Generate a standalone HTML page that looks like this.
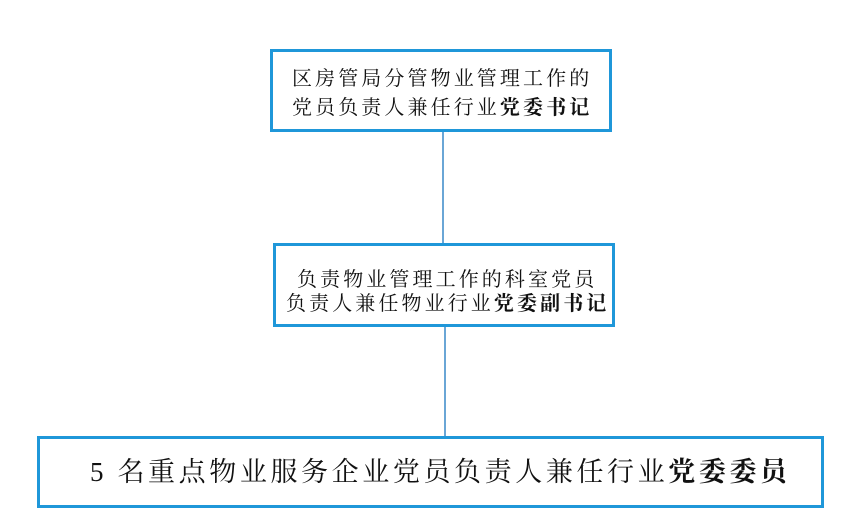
<!DOCTYPE html>
<html><head><meta charset="utf-8"><style>
body{margin:0;width:861px;height:528px;background:#fff;position:relative;overflow:hidden;font-family:"Liberation Serif","Noto Serif CJK SC",serif;color:#111}
.box{position:absolute;border:3.5px solid #1f97d9;box-sizing:border-box;background:#fff}
.t{position:absolute;white-space:nowrap;font-size:20px;letter-spacing:3.1px;line-height:24px}
.ln{position:absolute;width:2px;background:#6aa6d6}
b{font-weight:bold}
</style></head><body>
<div class="ln" style="left:442px;top:131px;height:113px"></div>
<div class="ln" style="left:444px;top:326px;height:111px"></div>
<div class="box" style="left:270px;top:49px;width:342px;height:83px"></div>
<div class="t" style="left:292px;top:67px">区房管局分管物业管理工作的</div>
<div class="t" style="left:292px;top:96px">党员负责人兼任行业<b>党委书记</b></div>
<div class="box" style="left:273px;top:243px;width:342px;height:84px"></div>
<div class="t" style="left:297px;top:268px">负责物业管理工作的科室党员</div>
<div class="t" style="left:286px;top:292px">负责人兼任物业行业<b>党委副书记</b></div>
<div class="box" style="left:37px;top:436px;width:787px;height:72px"></div>
<div class="t" style="left:90px;top:456px;font-size:27px;line-height:32px;letter-spacing:3.6px">5 名重点物业服务企业党员负责人兼任行业<b>党委委员</b></div>
</body></html>
